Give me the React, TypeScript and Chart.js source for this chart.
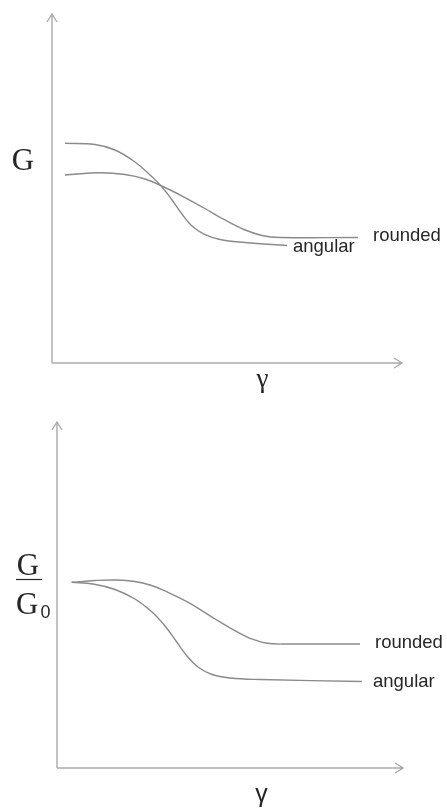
import React, { useEffect, useRef } from "react";
import { Chart, registerables } from "chart.js";

Chart.register(...registerables);

// ---- Data (arbitrary units, axes span 0..100) ----
const topAngularX = [3.71, 12.29, 18.0, 23.71, 28.0, 31.43, 34.29, 37.14, 40.0, 43.43, 48.0, 55.14, 67.14];
const topAngularY = [62.95, 62.61, 61.03, 57.59, 53.87, 50.43, 46.7, 42.69, 39.26, 36.96, 35.39, 34.53, 33.67];
const topRoundedX = [3.71, 13.71, 20.86, 26.57, 32.0, 37.71, 43.43, 49.14, 54.86, 60.0, 65.14, 87.43];
const topRoundedY = [53.87, 54.53, 54.01, 52.72, 50.43, 47.56, 44.41, 41.12, 38.25, 36.53, 35.96, 35.96];

const botRoundedX = [4.25, 10.98, 17.25, 22.54, 26.88, 31.71, 38.44, 46.16, 51.94, 55.78, 60.69, 67.34, 87.57];
const botRoundedY = [53.67, 54.19, 54.34, 53.9, 52.89, 50.95, 47.6, 42.77, 39.39, 37.49, 36.04, 35.84, 35.84];
const botAngularX = [4.25, 10.4, 16.76, 22.54, 27.46, 31.21, 34.39, 37.57, 40.75, 44.8, 50.0, 58.67, 88.15];
const botAngularY = [53.67, 53.18, 51.59, 48.84, 45.09, 41.04, 36.71, 32.37, 29.19, 27.02, 26.01, 25.58, 25.0];

const seriesNames = ["angular", "rounded"];
const xAxisTitle = "γ";

const pts = (xs: number[], ys: number[]) => xs.map((x, i) => ({ x, y: ys[i] }));

const LINE = "#8a8a8a";
const AXIS = "#aaaaaa";
const TEXT = "#262626";

const axesPlugin = {
  id: "arrowAxes",
  afterDraw(chart: any) {
    const { ctx, chartArea } = chart;
    const { left, right, top, bottom } = chartArea;
    ctx.save();
    ctx.strokeStyle = AXIS;
    ctx.lineWidth = 1.4;
    ctx.beginPath();
    ctx.moveTo(left, bottom);
    ctx.lineTo(left, top);
    ctx.moveTo(left, bottom);
    ctx.lineTo(right, bottom);
    ctx.moveTo(left - 5, top + 8);
    ctx.lineTo(left, top);
    ctx.lineTo(left + 5, top + 8);
    ctx.moveTo(right - 8, bottom - 5);
    ctx.lineTo(right, bottom);
    ctx.lineTo(right - 8, bottom + 5);
    ctx.stroke();
    ctx.restore();
  },
};

const labelsPlugin = {
  id: "textLabels",
  afterDraw(chart: any, _a: any, opts: any) {
    const { ctx } = chart;
    ctx.save();
    ctx.fillStyle = TEXT;
    ctx.textBaseline = "alphabetic";
    (opts.series || []).forEach((s: any, i: number) => {
      const meta = chart.getDatasetMeta(i);
      const last = meta.data[meta.data.length - 1];
      if (!last) return;
      ctx.font = s.font;
      ctx.textAlign = "left";
      ctx.fillText(chart.data.datasets[i].label, last.x + s.dx, last.y + s.dy);
    });
    (opts.texts || []).forEach((t: any) => {
      ctx.font = t.font;
      ctx.textAlign = t.align || "center";
      ctx.fillText(t.text, t.x, t.y);
    });
    (opts.rules || []).forEach((r: any) => {
      ctx.strokeStyle = TEXT;
      ctx.lineWidth = 1.2;
      ctx.beginPath();
      ctx.moveTo(r.x1, r.y);
      ctx.lineTo(r.x2, r.y);
      ctx.stroke();
    });
    ctx.restore();
  },
};

function makeConfig(datasets: any[], padding: any, labelOpts: any) {
  return {
    type: "line",
    data: {
      datasets: datasets.map((d) => ({
        label: d.label,
        data: d.data,
        borderColor: LINE,
        borderWidth: 1.4,
        pointRadius: 0,
        fill: false,
        tension: 0.4,
      })),
    },
    options: {
      responsive: false,
      animation: false,
      devicePixelRatio: 1,
      layout: { padding },
      scales: {
        x: { type: "linear", min: 0, max: 100, display: false },
        y: { type: "linear", min: 0, max: 100, display: false },
      },
      plugins: {
        legend: { display: false },
        tooltip: { enabled: false },
        textLabels: labelOpts,
      },
    },
    plugins: [axesPlugin, labelsPlugin],
  } as any;
}

function ChartCanvas({ config, width, height }: { config: any; width: number; height: number }) {
  const ref = useRef<HTMLCanvasElement | null>(null);
  useEffect(() => {
    if (!ref.current) return;
    const chart = new Chart(ref.current, config);
    return () => chart.destroy();
  }, [config]);
  return <canvas ref={ref} width={width} height={height} style={{ display: "block", width, height }} />;
}

const SANS = "'Liberation Sans', Arial, sans-serif";
const SERIF = "'Liberation Serif', 'Times New Roman', serif";
const LBL = `18.5px ${SANS}`;

const topConfig = makeConfig(
  [
    { label: seriesNames[0], data: pts(topAngularX, topAngularY) },
    { label: seriesNames[1], data: pts(topRoundedX, topRoundedY) },
  ],
  { left: 52, right: 45, top: 14, bottom: 37 },
  {
    series: [
      { dx: 6, dy: 6.5, font: LBL },
      { dx: 15, dy: 3.5, font: LBL },
    ],
    texts: [
      { text: "G", x: 23, y: 169.5, font: `31px ${SERIF}` },
      { text: xAxisTitle, x: 262.5, y: 387, font: `27px ${SERIF}` },
    ],
  }
);

const bottomConfig = makeConfig(
  [
    { label: seriesNames[1], data: pts(botRoundedX, botRoundedY) },
    { label: seriesNames[0], data: pts(botAngularX, botAngularY) },
  ],
  { left: 57, right: 44, top: 22, bottom: 40 },
  {
    series: [
      { dx: 15, dy: 4, font: LBL },
      { dx: 11, dy: 5, font: LBL },
    ],
    texts: [
      { text: "G", x: 28, y: 175, font: `31px ${SERIF}` },
      { text: "G", x: 27.3, y: 213.5, font: `31px ${SERIF}` },
      { text: "0", x: 40.5, y: 218, font: `18px ${SANS}`, align: "left" },
      { text: xAxisTitle, x: 261.5, y: 401.5, font: `25px ${SANS}` },
    ],
    rules: [{ x1: 16, x2: 42, y: 179.5 }],
  }
);

export default function App() {
  return (
    <div style={{ position: "absolute", left: 0, top: 0, width: 447, height: 808, background: "#fff" }}>
      <ChartCanvas config={topConfig} width={447} height={400} />
      <ChartCanvas config={bottomConfig} width={447} height={408} />
    </div>
  );
}
